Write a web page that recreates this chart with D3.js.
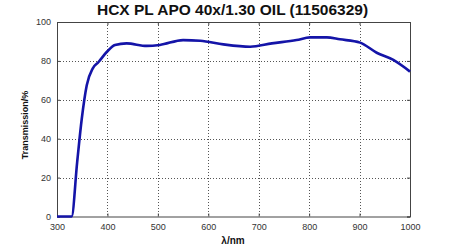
<!DOCTYPE html>
<html>
<head>
<meta charset="utf-8">
<script src="https://cdn.jsdelivr.net/npm/d3@7"></script>
<style>
  body { margin: 0; background: #fff; }
  text { font-family: "Liberation Sans", Arial, sans-serif; }
</style>
</head>
<body>
<svg class="chart"></svg>
<script>
// transmission curve
var wavelengths = [300, 329, 340, 349, 359, 371, 382, 399, 415, 438, 478, 504, 550, 584, 630, 683, 726, 775, 802, 835, 861, 901, 934, 967, 1000];
var transmission = [0, 0, 28, 50, 67.5, 76.2, 79.3, 84.7, 88.2, 89, 87.7, 88.2, 90.7, 90.4, 88.5, 87.3, 89, 90.7, 92.1, 92.1, 91.1, 89.4, 84.2, 80.5, 74.5];
var xTicks = [300, 400, 500, 600, 700, 800, 900, 1000];
var yTicks = [0, 20, 40, 60, 80, 100];

var width = 450, height = 247;
var plotLeft = 57, plotRight = 410, plotTop = 22, plotBottom = 216.5;

var svg = d3.select(".chart").attr("width", width).attr("height", height);

var x = d3.scaleLinear().domain([300, 1000]).range([plotLeft, plotRight]);
var y = d3.scaleLinear().domain([0, 100]).range([plotBottom, plotTop]);

function crisp(v) { return Math.round(v) + 0.5; }

// dotted grid
svg.selectAll(".gx").data(xTicks.slice(1, -1)).enter().append("line")
    .attr("x1", function(d) { return crisp(x(d)); }).attr("x2", function(d) { return crisp(x(d)); })
    .attr("y1", plotTop).attr("y2", plotBottom)
    .attr("stroke", "#555").attr("stroke-width", 1).attr("stroke-dasharray", "1,2")
    .attr("shape-rendering", "crispEdges");
svg.selectAll(".gy").data(yTicks.slice(1, -1)).enter().append("line")
    .attr("x1", plotLeft).attr("x2", plotRight)
    .attr("y1", function(d) { return crisp(y(d)); }).attr("y2", function(d) { return crisp(y(d)); })
    .attr("stroke", "#555").attr("stroke-width", 1).attr("stroke-dasharray", "1,2")
    .attr("shape-rendering", "crispEdges");

// axes, ticks pointing inward like the original
svg.append("g").attr("transform", "translate(0," + plotBottom + ")")
    .call(d3.axisBottom(x).tickValues(xTicks).tickSize(-3).tickPadding(7).tickFormat(d3.format("d")));
svg.append("g").attr("transform", "translate(" + plotLeft + ",0)")
    .call(d3.axisLeft(y).tickValues(yTicks).tickSize(-3).tickPadding(6));
svg.append("g").attr("transform", "translate(0," + plotTop + ")")
    .call(d3.axisTop(x).tickValues(xTicks).tickSize(-3).tickFormat(""));
svg.append("g").attr("transform", "translate(" + plotRight + ",0)")
    .call(d3.axisRight(y).tickValues(yTicks).tickSize(-3).tickFormat(""));
svg.selectAll(".domain, .tick line").attr("stroke", "#444");
svg.selectAll(".tick text").attr("fill", "#333").style("font-size", "9px");

// curve
var line = d3.line()
    .x(function(d, i) { return x(wavelengths[i]); })
    .y(function(d) { return y(d); })
    .curve(d3.curveMonotoneX);
svg.append("path")
    .datum(transmission)
    .attr("d", line)
    .attr("fill", "none")
    .attr("stroke", "#1414a8")
    .attr("stroke-width", 2.6);

// labels
svg.append("text")
    .attr("x", 232.5).attr("y", 14.5)
    .attr("text-anchor", "middle")
    .style("font-size", "15.5px").style("font-weight", "bold").attr("fill", "#111")
    .text("HCX PL APO 40x/1.30 OIL (11506329)");
svg.append("text")
    .attr("x", 233).attr("y", 244)
    .attr("text-anchor", "middle")
    .style("font-size", "10px").style("font-weight", "bold").attr("fill", "#111")
    .text("λ/nm");
svg.append("text")
    .attr("transform", "translate(28,125) rotate(-90)")
    .attr("text-anchor", "middle")
    .style("font-size", "9px").style("font-weight", "bold").attr("fill", "#111")
    .text("Transmission/%");
</script>
</body>
</html>
